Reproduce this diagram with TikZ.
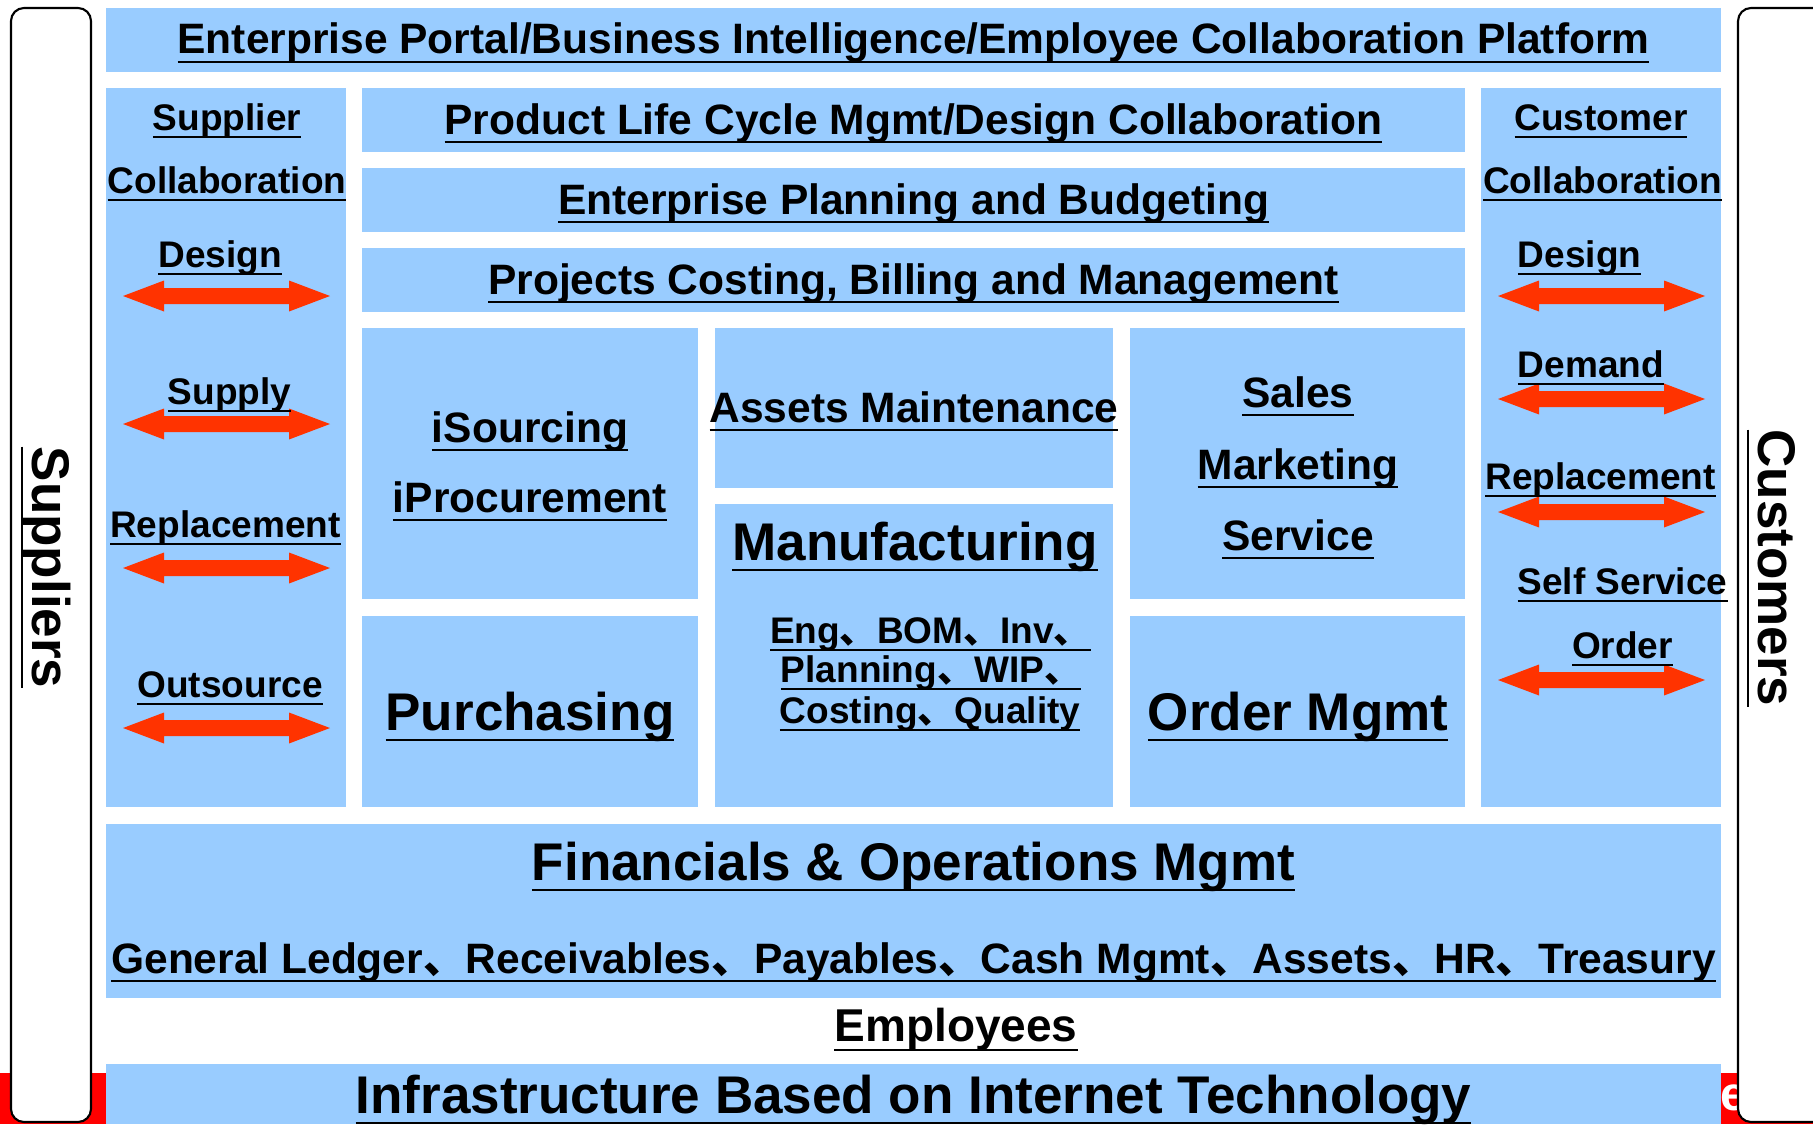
\documentclass[tikz,border=0pt]{standalone}
\usepackage{fontspec}
\setmainfont{Liberation Sans}
\newfontfamily\cjk{Noto Sans CJK SC}
\definecolor{boxblue}{RGB}{153,204,255}
\definecolor{arrowred}{RGB}{255,51,0}
\newcommand{\uln}[1]{\setbox0=\hbox{#1}\rlap{\rule[-0.215em]{\wd0}{0.05em}}\box0}
\newcommand{\dun}{{\cjk 、}}

\begin{document}
\begin{tikzpicture}[x=0.01cm,y=-0.01cm,
		lbl/.style={inner sep=0pt,anchor=base,font=\bfseries\fontsize{12.09}{14}\selectfont},
		big/.style={lbl,font=\bfseries\fontsize{15.08}{18}\selectfont},
		side/.style={lbl,font=\bfseries\fontsize{10.53}{12}\selectfont},
		frame/.style={draw=black,line width=0.6pt,fill=white,rounded corners=3.7pt}]
		\useasboundingbox (0,0) rectangle (1813,1124);
		\fill[red] (0,1073) rectangle (1813,1124);
		\node[lbl,anchor=base west,text=white,font=\bfseries\fontsize{13.6}{16}\selectfont] (tag) at (1720,1110) {e};
		\foreach \xa/\ya/\xb/\yb in {106/8/1721/72, 106/88/346/807, 1481/88/1721/807,
			362/88/1465/152, 362/168/1465/232, 362/248/1465/312,
			362/328/698/599, 362/616/698/807, 715/328/1113/488, 715/504/1113/807,
			1130/328/1465/599, 1130/616/1465/807, 106/824/1721/998, 106/1064/1721/1124}
			\fill[boxblue] (\xa,\ya) rectangle (\xb,\yb);
		\draw[frame] (11,8) rectangle (91,1122);
		\draw[frame] (1738,8) rectangle (1840,1122);
		\foreach \cx/\cy in {226.5/296, 226.5/424, 226.5/568, 226.5/728,
			1601.5/296, 1601.5/399, 1601.5/512, 1601.5/680}
			\fill[arrowred] (\cx-103.5,\cy) -- ++(41,-15.5) -- ++(0,7.5) -- ++(125,0) -- ++(0,-7.5)
				-- ++(41,15.5) -- ++(-41,15.5) -- ++(0,-7.5) -- ++(-125,0) -- ++(0,7.5) -- cycle;
		
		\node[lbl] (portal)   at (913.5,54)  {\uln{Enterprise Portal/Business Intelligence/Employee Collaboration Platform}};
		\node[lbl] (plm)      at (913.5,134) {\uln{Product Life Cycle Mgmt/Design Collaboration}};
		\node[lbl] (budget)   at (913.5,214) {\uln{Enterprise Planning and Budgeting}};
		\node[lbl] (projects) at (913.5,294) {\uln{Projects Costing, Billing and Management}};
		\node[lbl] (isrc)     at (530,442)   {\uln{iSourcing}};
		\node[lbl] (iproc)    at (530,512)   {\uln{iProcurement}};
		\node[lbl] (assets)   at (914,422)   {\uln{Assets Maintenance}};
		\node[lbl] (sales)    at (1298,407)  {\uln{Sales}};
		\node[lbl] (mktg)     at (1298,479)  {\uln{Marketing}};
		\node[lbl] (service)  at (1298,550)  {\uln{Service}};
		\node[big] (mfg)      at (915,560)   {\uln{Manufacturing}};
		\node[side] (mfga)    at (930.5,643) {\uln{Eng\dun BOM\dun Inv\dun}};
		\node[side] (mfgb)    at (931,682)   {\uln{Planning\dun WIP\dun}};
		\node[side] (mfgc)    at (930,723)   {\uln{Costing\dun Quality}};
		\node[big] (purch)    at (530,730)   {\uln{Purchasing}};
		\node[big] (order)    at (1298,730)  {\uln{Order Mgmt}};
		\node[big] (fin)      at (913.5,880) {\uln{Financials \& Operations Mgmt}};
		\node[lbl] (finlist)  at (913.5,973) {\uln{General Ledger\dun Receivables\dun Payables\dun Cash Mgmt\dun Assets\dun HR\dun Treasury}};
		\node[lbl,font=\bfseries\fontsize{13.09}{15}\selectfont] (staff) at (956,1041) {\uln{Employees}};
		\node[big] (infra)    at (913.5,1113) {\uln{Infrastructure Based on Internet Technology}};
		
		\node[big,rotate=-90] (suppliers) at (32,567.5) {\uln{Suppliers}};
		\node[big,rotate=-90] (customers) at (1758,568) {\uln{Customers}};
		
		\node[side] (scollab1) at (227,130)   {\uln{Supplier}};
		\node[side] (scollab2) at (227,193)   {\uln{Collaboration}};
		\node[side] (sdesign)  at (220,267)   {\uln{Design}};
		\node[side] (ssupply)  at (229.5,404) {\uln{Supply}};
		\node[side] (srepl)    at (225.5,537) {\uln{Replacement}};
		\node[side] (sout)     at (230,697)   {\uln{Outsource}};
		\node[side] (ccollab1) at (1601,130)  {\uln{Customer}};
		\node[side] (ccollab2) at (1602.5,193) {\uln{Collaboration}};
		\node[side] (cdesign)  at (1579.5,267) {\uln{Design}};
		\node[side] (cdemand)  at (1591,377)  {\uln{Demand}};
		\node[side] (crepl)    at (1600.5,489) {\uln{Replacement}};
		\node[side] (cself)    at (1622.5,594) {\uln{Self Service}};
		\node[side] (corder)   at (1622.5,658) {\uln{Order}};
\end{tikzpicture}
\end{document}
